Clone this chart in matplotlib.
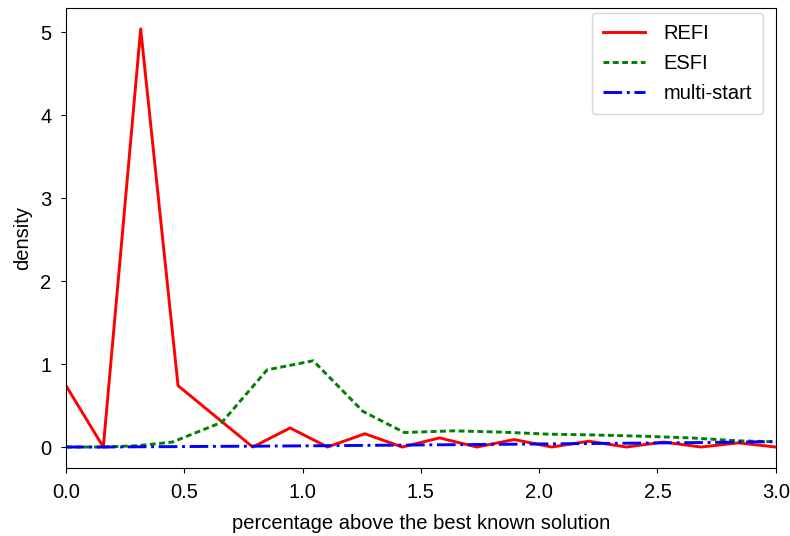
import numpy as np
import matplotlib
matplotlib.use('Agg')
import matplotlib.pyplot as plt

plt.rcParams['font.family'] = ['Liberation Sans', 'DejaVu Sans']
plt.rcParams['font.size'] = 14.5

# REFI: 20 evenly spaced points on [0, 3]
refi_x = np.linspace(0, 3, 20)
refi_y = [0.74, 0.0, 5.04, 0.74, 0.37, 0.0, 0.23, 0.0, 0.16, 0.0,
          0.11, 0.0, 0.09, 0.0, 0.07, 0.0, 0.06, 0.0, 0.05, 0.0]

# ESFI
esfi_x = [0.0, 0.15, 0.30, 0.45, 0.66, 0.85, 1.045, 1.255, 1.43, 1.64,
          1.84, 2.04, 2.24, 2.44, 2.64, 2.84, 3.04]
esfi_y = [0.0, 0.0, 0.015, 0.06, 0.30, 0.93, 1.04, 0.43, 0.175, 0.195,
          0.18, 0.155, 0.145, 0.13, 0.11, 0.075, 0.06]

# multi-start
ms_x = np.linspace(0, 3, 20)
ms_y = [0.0, 0.0, 0.003, 0.005, 0.008, 0.010, 0.013, 0.016, 0.020, 0.023,
        0.027, 0.030, 0.034, 0.038, 0.042, 0.046, 0.050, 0.054, 0.059, 0.065]

fig = plt.figure(figsize=(7.9, 5.36), dpi=100)
ax = fig.add_axes([0.0835, 0.127, 0.8985, 0.858])

ax.plot(refi_x, refi_y, color='red', lw=2.1, label='REFI')
ax.plot(esfi_x, esfi_y, color='green', lw=2.1, ls=':', dashes=(2, 1.2), label='ESFI')
ax.plot(ms_x, ms_y, color='blue', lw=2.1, ls='-.', label='multi-start')

ax.set_xlim(0, 3)
ax.tick_params(axis='both', pad=7)
ax.set_xlabel('percentage above the best known solution', labelpad=9)
ax.set_ylabel('density', labelpad=6)
ax.legend(loc='upper right', bbox_to_anchor=(0.982, 0.989), borderaxespad=0,
          handlelength=2.1, handletextpad=0.9, borderpad=0.55, labelspacing=0.55)

fig.savefig('out.png', dpi=100)
